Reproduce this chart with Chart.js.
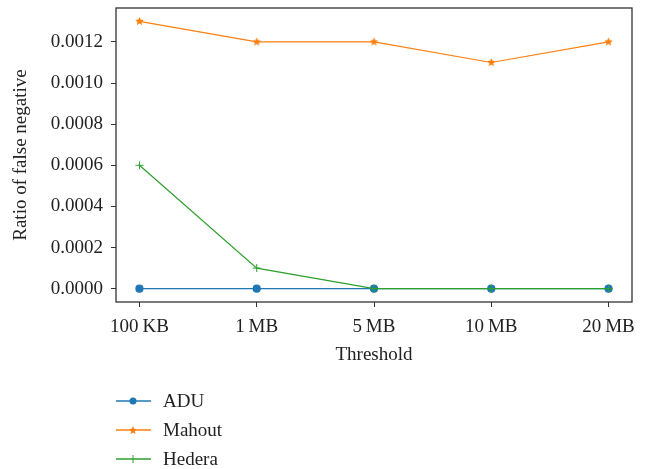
<!DOCTYPE html>
<html>
<head>
<meta charset="utf-8">
<script src="https://cdn.jsdelivr.net/npm/chart.js@4/dist/chart.umd.min.js"></script>
<style>
  body { margin: 0; background: #fff; }
  #wrap { position: relative; width: 654px; height: 469px; }
  #legend { position: absolute; left: 116px; top: 386px; font-family: "Liberation Serif", serif; font-size: 19px; color: #222; }
  .item { height: 29px; display: flex; align-items: center; }
  .item svg { margin-right: 12px; }
</style>
</head>
<body>
<div id="wrap">
  <canvas id="chart" width="654" height="469"></canvas>
  <div id="legend"></div>
</div>
<script>
// dane
const thresholds = ['100\u2009KB', '1\u2009MB', '5\u2009MB', '10\u2009MB', '20\u2009MB'];
const adu = [0, 0, 0, 0, 0];
const mahout = [0.0013, 0.0012, 0.0012, 0.0011, 0.0012];
const hedera = [0.0006, 0.0001, 0, 0, 0];
const yTicks = [0, 0.0002, 0.0004, 0.0006, 0.0008, 0.0010, 0.0012];

const blue = '#1f77b4', orange = '#ff7f0e', green = '#2ca02c';
const font = { family: 'Liberation Serif', size: 19 };

function pts(arr) {
  return arr.map((v, i) => ({ x: i, y: v }));
}

// gwiazdka jako znacznik (jak w matplotlib)
function starImage(color, r) {
  const c = document.createElement('canvas');
  const s = Math.ceil(r * 2 + 2);
  c.width = s; c.height = s;
  const ctx = c.getContext('2d');
  ctx.fillStyle = color;
  ctx.beginPath();
  for (let i = 0; i < 10; i++) {
    const rr = i % 2 === 0 ? r : r * 0.45;
    const a = -Math.PI / 2 + i * Math.PI / 5;
    const px = s / 2 + rr * Math.cos(a), py = s / 2 + rr * Math.sin(a);
    if (i === 0) ctx.moveTo(px, py); else ctx.lineTo(px, py);
  }
  ctx.closePath();
  ctx.fill();
  return c;
}
const star = starImage(orange, 4.5);

// ramka dookoła obszaru wykresu
const frame = {
  id: 'frame',
  afterDraw(chart) {
    const a = chart.chartArea, ctx = chart.ctx;
    ctx.save();
    ctx.strokeStyle = '#333';
    ctx.lineWidth = 1.3;
    ctx.strokeRect(a.left, a.top, a.right - a.left, a.bottom - a.top);
    ctx.restore();
  }
};

new Chart(document.getElementById('chart'), {
  type: 'line',
  data: {
    datasets: [
      { label: 'ADU', data: pts(adu), borderColor: blue, backgroundColor: blue,
        borderWidth: 1.2, pointStyle: 'circle', pointRadius: 3.5, order: 3 },
      { label: 'Mahout', data: pts(mahout), borderColor: orange, backgroundColor: orange,
        borderWidth: 1.2, pointStyle: star, pointRadius: 4, order: 2 },
      { label: 'Hedera', data: pts(hedera), borderColor: green, backgroundColor: green,
        borderWidth: 1.2, pointStyle: 'cross', pointRadius: 4, pointBorderWidth: 1, order: 1 }
    ]
  },
  options: {
    responsive: false,
    animation: false,
    layout: { padding: { top: 8, right: 22, left: 0, bottom: 99 } },
    plugins: { legend: { display: false }, tooltip: { enabled: false } },
    scales: {
      x: {
        type: 'linear', min: -0.2, max: 4.2,
        afterBuildTicks: s => { s.ticks = thresholds.map((t, i) => ({ value: i })); },
        afterFit: s => { s.height = 68; s.paddingLeft = 0; s.paddingRight = 0; },
        ticks: { font: font, color: '#222', padding: 9, maxRotation: 0,
          callback: v => thresholds[v] },
        grid: { display: true, drawOnChartArea: false, drawTicks: true, tickLength: 5, color: '#333' },
        border: { display: false },
        title: { display: true, text: 'Threshold', font: font, color: '#222', padding: { top: 0, bottom: 4 } }
      },
      y: {
        min: -0.000065, max: 0.001365,
        afterBuildTicks: s => { s.ticks = yTicks.map(v => ({ value: v })); },
        afterFit: s => { s.width = 116; s.paddingTop = 0; s.paddingBottom = 0; },
        ticks: { font: font, color: '#222', padding: 8,
          callback: v => v.toFixed(4) },
        grid: { display: true, drawOnChartArea: false, drawTicks: true, tickLength: 5, color: '#333' },
        border: { display: false },
        title: { display: true, text: 'Ratio of false negative', font: font, color: '#222', padding: { top: 10, bottom: 6 } }
      }
    }
  },
  plugins: [frame]
});

// legenda pod wykresem
const legendItems = [
  { label: 'ADU', color: blue, mark: '<circle cx="17" cy="8" r="3.5" fill="' + blue + '"/>' },
  { label: 'Mahout', color: orange, mark: '<polygon points="17,4 18.2,6.8 21,7 18.8,9 19.5,12 17,10.4 14.5,12 15.2,9 13,7 15.8,6.8" fill="' + orange + '"/>' },
  { label: 'Hedera', color: green, mark: '<path d="M17 4 V12" stroke="' + green + '" stroke-width="1"/>' }
];
document.getElementById('legend').innerHTML = legendItems.map(it =>
  '<div class="item"><svg width="35" height="16"><line x1="0" y1="8" x2="35" y2="8" stroke="' + it.color +
  '" stroke-width="1.5"/>' + it.mark + '</svg><span>' + it.label + '</span></div>').join('');
</script>
</body>
</html>
